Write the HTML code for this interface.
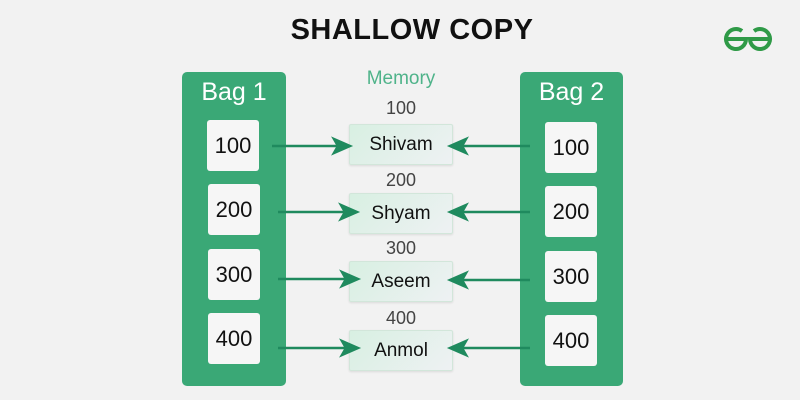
<!DOCTYPE html>
<html><head><style>
*{margin:0;padding:0;box-sizing:border-box}
body{width:800px;height:400px;background:#f2f2f2;position:relative;overflow:hidden;font-family:"Liberation Sans",sans-serif}
.a{position:absolute}
.title{left:0;width:824px;top:14px;text-align:center;font-weight:bold;font-size:29px;color:#111;letter-spacing:0.5px}
.panel{background:#3aa876;border-radius:5px}
.bag{color:#fff;font-size:25px;text-align:center}
.box{background:#f6f6f6;width:52px;height:51px;border-radius:3px;font-size:22px;color:#111;display:flex;align-items:center;justify-content:center}
.mem{background:linear-gradient(135deg,#d8f0e2,#eef1f3);width:104px;height:41px;border:1px solid #d2e6da;border-radius:2px;font-size:19px;color:#111;display:flex;align-items:center;justify-content:center;box-shadow:0 1px 2px rgba(0,0,0,0.1)}
.num{width:104px;text-align:center;font-size:18px;color:#444}
</style></head><body>
<div class="a title">SHALLOW COPY</div>
<svg class="a" style="left:722px;top:26px" width="52" height="26" viewBox="0 0 52 26">
<g fill="none" stroke="#2f9a47" stroke-width="4">
<path d="M4 13 H24 A10 10 0 1 1 20 5"/>
<path d="M48 13 H28 A10 10 0 1 0 32 5"/>
</g></svg>
<div class="a panel" style="left:182px;top:72px;width:104px;height:314px"></div>
<div class="a panel" style="left:520px;top:72px;width:103px;height:314px"></div>
<div class="a bag" style="left:182px;top:78px;width:104px">Bag 1</div>
<div class="a bag" style="left:520px;top:78px;width:103px">Bag 2</div>
<div class="a" style="left:349px;top:68px;width:104px;text-align:center;color:#4fb38a;font-size:19px">Memory</div>

<div class="a box" style="left:207px;top:120px">100</div>
<div class="a box" style="left:208px;top:184px">200</div>
<div class="a box" style="left:208px;top:249px">300</div>
<div class="a box" style="left:208px;top:313px">400</div>
<div class="a box" style="left:545px;top:122px">100</div>
<div class="a box" style="left:545px;top:186px">200</div>
<div class="a box" style="left:545px;top:251px">300</div>
<div class="a box" style="left:545px;top:315px">400</div>

<div class="a num" style="left:349px;top:98px">100</div>
<div class="a num" style="left:349px;top:170px">200</div>
<div class="a num" style="left:349px;top:238px">300</div>
<div class="a num" style="left:349px;top:308px">400</div>
<div class="a mem" style="left:349px;top:124px">Shivam</div>
<div class="a mem" style="left:349px;top:193px">Shyam</div>
<div class="a mem" style="left:349px;top:261px">Aseem</div>
<div class="a mem" style="left:349px;top:330px">Anmol</div>

<svg class="a" style="left:0;top:0" width="800" height="400">
<g stroke="#1f8a5e" stroke-width="2.5" fill="#1f8a5e">
<line x1="272" y1="146" x2="338" y2="146"/><polygon points="350,146 334,139 338,146 334,153"/>
<line x1="278" y1="212" x2="344" y2="212"/><polygon points="357,212 341,205 345,212 341,219"/>
<line x1="278" y1="279" x2="346" y2="279"/><polygon points="358,279 342,272 346,279 342,286"/>
<line x1="278" y1="348" x2="346" y2="348"/><polygon points="358,348 342,341 346,348 342,355"/>
<line x1="530" y1="146" x2="462" y2="146"/><polygon points="450,146 466,139 462,146 466,153"/>
<line x1="530" y1="212" x2="462" y2="212"/><polygon points="450,212 466,205 462,212 466,219"/>
<line x1="530" y1="280" x2="462" y2="280"/><polygon points="450,280 466,273 462,280 466,287"/>
<line x1="530" y1="348" x2="462" y2="348"/><polygon points="450,348 466,341 462,348 466,355"/>
</g></svg>
</body></html>
